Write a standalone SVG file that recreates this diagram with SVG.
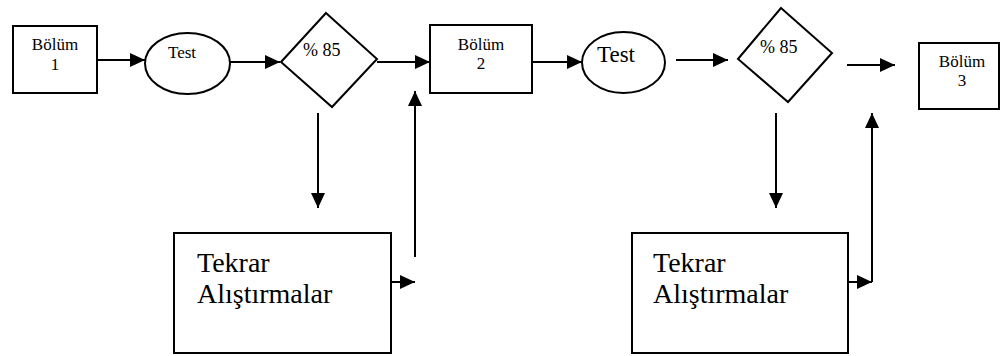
<svg xmlns="http://www.w3.org/2000/svg" width="1001" height="356" viewBox="0 0 1001 356" font-family="'Liberation Serif', 'Times New Roman', serif">
<style>
.box{fill:#fff;stroke:#000;stroke-width:2}
.ln{fill:none;stroke:#000;stroke-width:2}
text{font-family:"Liberation Serif","Times New Roman",serif;fill:#000}
.s{font-size:17px;text-anchor:middle}
.big{font-size:28px}
</style>
<defs>
<marker id="ah" markerUnits="userSpaceOnUse" markerWidth="16" markerHeight="15" refX="15" refY="7" orient="auto">
<path d="M0,0 L15,7 L0,14 z" fill="#000"/>
</marker>
</defs>
<rect width="1001" height="356" fill="#fff"/>
<g id="connectors">
<line class="ln" x1="97" y1="60" x2="145" y2="60" marker-end="url(#ah)"/>
<line class="ln" x1="230" y1="62" x2="280" y2="62" marker-end="url(#ah)"/>
<line class="ln" x1="377" y1="62" x2="430" y2="62" marker-end="url(#ah)"/>
<line class="ln" x1="532" y1="62" x2="582" y2="62" marker-end="url(#ah)"/>
<line class="ln" x1="676" y1="60" x2="728" y2="60" marker-end="url(#ah)"/>
<line class="ln" x1="847" y1="65" x2="895" y2="65" marker-end="url(#ah)"/>
<line class="ln" x1="318" y1="113" x2="318" y2="208" marker-end="url(#ah)"/>
<line class="ln" x1="776" y1="113" x2="776" y2="208" marker-end="url(#ah)"/>
<line class="ln" x1="342" y1="282" x2="415" y2="282" marker-end="url(#ah)"/>
<line class="ln" x1="415" y1="257" x2="415" y2="91" marker-end="url(#ah)"/>
<line class="ln" x1="800" y1="282" x2="872" y2="282" marker-end="url(#ah)"/>
<line class="ln" x1="872" y1="282" x2="872" y2="113" marker-end="url(#ah)"/>
</g>
<g id="bolum1">
<rect class="box" x="13" y="26" width="84" height="67"/>
<text class="s" x="55" y="50">Bölüm</text>
<text class="s" x="55" y="70">1</text>
</g>
<g id="test1">
<ellipse class="box" cx="187.5" cy="63.5" rx="42.5" ry="30.5"/>
<text x="168" y="58" font-size="17">Test</text>
</g>
<g id="karar1">
<polygon class="box" points="326,13 377,59 332,107 281,62"/>
<text x="303" y="56" font-size="18">% 85</text>
</g>
<g id="bolum2">
<rect class="box" x="430" y="25" width="102" height="68"/>
<text class="s" x="481" y="50">Bölüm</text>
<text class="s" x="481" y="69">2</text>
</g>
<g id="test2">
<ellipse class="box" cx="623.5" cy="62.5" rx="41.5" ry="30.5"/>
<text x="597" y="62" font-size="23">Test</text>
</g>
<g id="karar2">
<polygon class="box" points="781,8 832,53 788,102 738,59"/>
<text x="760" y="53" font-size="18">% 85</text>
</g>
<g id="bolum3">
<rect class="box" x="919" y="43" width="80" height="66"/>
<text class="s" x="962" y="67">Bölüm</text>
<text class="s" x="962" y="86">3</text>
</g>
<g id="tekrar1">
<rect class="box" x="174" y="233" width="217" height="120"/>
<text class="big" x="197" y="272">Tekrar</text>
<text class="big" x="197" y="303">Alıştırmalar</text>
</g>
<g id="tekrar2">
<rect class="box" x="632" y="233" width="216" height="120"/>
<text class="big" x="653" y="272">Tekrar</text>
<text class="big" x="653" y="303">Alıştırmalar</text>
</g>
</svg>
